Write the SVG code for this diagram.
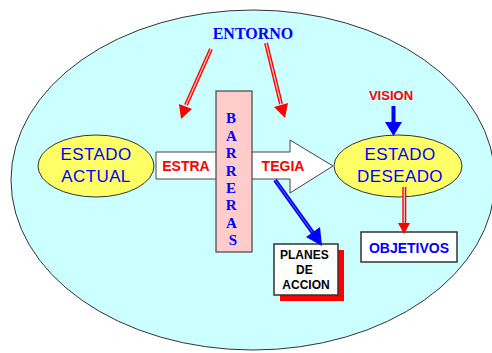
<svg xmlns="http://www.w3.org/2000/svg" width="492" height="353" viewBox="0 0 492 353">
<style>
.blue{fill:#0000ff}
.red{fill:#ff0000}
.sans{font-family:"Liberation Sans",Arial,sans-serif}
.serif{font-family:"Liberation Serif","Times New Roman",serif;font-weight:bold}
.est{font-size:17px;letter-spacing:0.4px}
.lbl{font-size:14px;font-weight:bold}
.box{fill:#ffffff;stroke:#333333;stroke-width:1.5}
.yel{fill:#ffff66;stroke:#333333;stroke-width:1}
</style>
<rect x="0" y="0" width="492" height="353" fill="#ffffff"/>
<g id="entorno">
<ellipse cx="253" cy="180" rx="242" ry="170" fill="#ccffff" stroke="#333333" stroke-width="1"/>
<text x="253" y="39" text-anchor="middle" class="serif blue" font-size="16">ENTORNO</text>
</g>
<g id="estrategia">
<polygon points="156,152 290,152 290,140 333,166 290,193 290,179 156,179" fill="#ffffff" stroke="#444444" stroke-width="1"/>
<text x="186" y="171" text-anchor="middle" class="sans lbl red">ESTRA</text>
<text x="283" y="171" text-anchor="middle" class="sans lbl red">TEGIA</text>
</g>
<g id="estado-actual">
<ellipse cx="96" cy="166" rx="58" ry="31" class="yel"/>
<text x="96" y="160" text-anchor="middle" class="sans est blue">ESTADO</text>
<text x="96" y="182" text-anchor="middle" class="sans est blue">ACTUAL</text>
</g>
<g id="estado-deseado">
<ellipse cx="398" cy="166" rx="64" ry="31" class="yel"/>
<text x="400" y="160" text-anchor="middle" class="sans est blue">ESTADO</text>
<text x="400" y="182" text-anchor="middle" class="sans est blue">DESEADO</text>
</g>
<g id="barreras">
<rect x="216" y="91" width="36" height="161" fill="#ffcccc" stroke="#444444" stroke-width="1.2"/>
<text text-anchor="middle" class="serif blue" font-size="15">
<tspan x="233" y="123">B</tspan>
<tspan x="233" y="141">A</tspan>
<tspan x="233" y="158">R</tspan>
<tspan x="233" y="176">R</tspan>
<tspan x="233" y="193">E</tspan>
<tspan x="233" y="210">R</tspan>
<tspan x="233" y="228">A</tspan>
<tspan x="233" y="245">S</tspan>
</text>
</g>
<g id="vision">
<text x="391" y="100" text-anchor="middle" class="sans red" font-size="13" font-weight="bold">VISION</text>
</g>
<g id="objetivos">
<rect x="361" y="232" width="96" height="30" class="box"/>
<text x="409" y="253" text-anchor="middle" class="sans lbl blue">OBJETIVOS</text>
</g>
<g id="planes">
<rect x="280" y="250" width="64" height="51" fill="#ff0000"/>
<rect x="274" y="244" width="64" height="51" class="box"/>
<text text-anchor="middle" class="sans" font-size="12" font-weight="bold" fill="#000000">
<tspan x="306" y="259">PLANES</tspan>
<tspan x="306" y="274">DE</tspan>
<tspan x="306" y="289">ACCION</tspan>
</text>
</g>
<g id="connectors">
<line x1="211" y1="49" x2="186" y2="105" stroke="#ff0000" stroke-width="4"/>
<line x1="211" y1="49" x2="186" y2="105" stroke="#ffcccc" stroke-width="1.2"/>
<polygon points="181,119 179,104 192,109" fill="#ff0000"/>
<line x1="266" y1="43" x2="281" y2="104" stroke="#ff0000" stroke-width="4"/>
<line x1="266" y1="43" x2="281" y2="104" stroke="#ffcccc" stroke-width="1.2"/>
<polygon points="285,118 274,107 288,103" fill="#ff0000"/>
<line x1="393.5" y1="106" x2="393.5" y2="124" stroke="#0000ff" stroke-width="4"/>
<polygon points="393.5,136 385,122 402,122" fill="#0000ff"/>
<line x1="404.3" y1="187" x2="404.3" y2="225" stroke="#ff0000" stroke-width="4"/>
<line x1="404.3" y1="187" x2="404.3" y2="225" stroke="#ffcccc" stroke-width="1.2"/>
<polygon points="404,234 398,223 410,223" fill="#ff0000"/>
<line x1="275" y1="180" x2="313" y2="233" stroke="#0000ff" stroke-width="4"/>
<line x1="275" y1="180" x2="313" y2="233" stroke="#6666ff" stroke-width="1"/>
<polygon points="322,246 306,237 320,227" fill="#0000ff"/>
</g>
</svg>
